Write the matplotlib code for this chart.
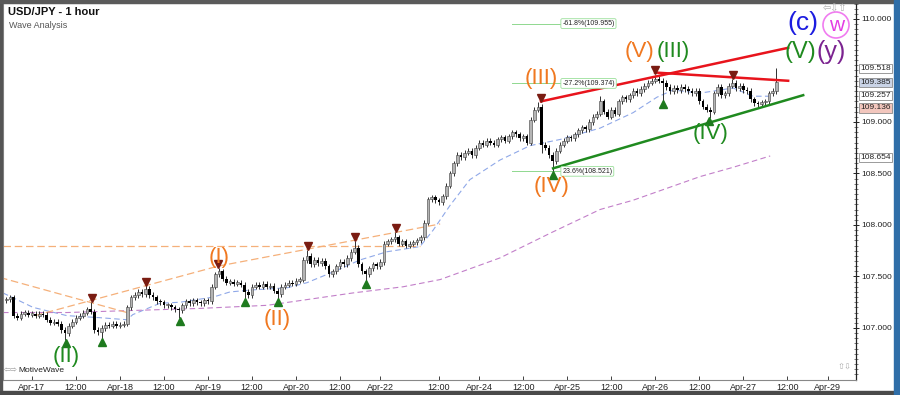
import numpy as np
import matplotlib.pyplot as plt
import matplotlib.transforms as mtransforms
from matplotlib.patches import Rectangle, Circle

plt.rcParams['font.family'] = ['Liberation Sans', 'DejaVu Sans']

# hourly closes, first bar is index -7 (Apr-17 00:00 = bar 0)
first_bar = -7
closes = [
    107.28, 107.30, 107.12, 107.10, 107.14, 107.15, 107.13,
    107.14, 107.12, 107.14, 107.13, 107.08, 107.05, 107.06, 107.04, 106.98, 106.95,
    107.02, 107.06, 107.10, 107.12, 107.15, 107.18, 107.16, 106.98, 106.96, 107.00,
    107.03, 107.02, 107.04, 107.02, 107.03, 107.04, 107.20, 107.30, 107.32, 107.35,
    107.33, 107.38, 107.32, 107.30, 107.26, 107.25, 107.22, 107.22, 107.20, 107.18,
    107.17, 107.22, 107.26, 107.24, 107.27, 107.25, 107.24, 107.27, 107.26, 107.40,
    107.52, 107.55, 107.48, 107.44, 107.45, 107.43, 107.44, 107.42, 107.35, 107.32,
    107.40, 107.42, 107.40, 107.43, 107.40, 107.41, 107.36, 107.33, 107.40, 107.42,
    107.44, 107.43, 107.46, 107.47, 107.66, 107.70, 107.62, 107.66, 107.63, 107.65,
    107.60, 107.52, 107.55, 107.60, 107.64, 107.62, 107.68, 107.74, 107.78, 107.62,
    107.55, 107.52, 107.58, 107.62, 107.60, 107.64, 107.82, 107.84, 107.86, 107.88,
    107.82, 107.84, 107.80, 107.82, 107.83, 107.85, 107.88, 108.02, 108.25, 108.27,
    108.24, 108.22, 108.28, 108.38, 108.50, 108.60, 108.68, 108.66, 108.70, 108.72,
    108.68, 108.75, 108.80, 108.78, 108.82, 108.80, 108.78, 108.83, 108.85, 108.82,
    108.86, 108.90, 108.88, 108.84, 108.86, 108.80, 109.02, 109.12, 109.15, 108.78,
    108.75, 108.68, 108.62, 108.72, 108.78, 108.82, 108.85, 108.84, 108.88, 108.92,
    108.95, 108.93, 109.00, 109.05, 109.08, 109.20, 109.10, 109.05, 109.12, 109.08,
    109.20, 109.24, 109.22, 109.26, 109.30, 109.28, 109.32, 109.35, 109.38, 109.40,
    109.42, 109.40, 109.38, 109.34, 109.30, 109.33, 109.31, 109.34, 109.32, 109.30,
    109.28, 109.30, 109.20, 109.15, 109.12, 109.10, 109.28, 109.34, 109.26, 109.28,
    109.35, 109.38, 109.33, 109.35, 109.31, 109.30, 109.22, 109.18, 109.17, 109.19,
    109.20, 109.28, 109.30, 109.385,
]
first_open = 107.27
peak_highs = {16: 107.25, 31: 107.42, 51: 107.58, 75: 107.76, 88: 107.84, 99: 107.93,
              138: 109.19, 155: 109.25, 170: 109.46, 191: 109.42, 203: 109.52}
trough_lows = {9: 106.88, 19: 106.89, 40: 107.10, 58: 107.28, 67: 107.28, 91: 107.46,
               139: 108.70, 142: 108.52, 172: 109.20, 185: 109.04}

tick_bars = [0, 12, 24, 36, 48, 60, 72, 84, 95, 111, 122, 134, 146, 158, 170, 182, 194, 206, 217]
tick_labels = ['Apr-17', '12:00', 'Apr-18', '12:00', 'Apr-19', '12:00', 'Apr-20', '12:00',
               'Apr-22', '12:00', 'Apr-24', '12:00', 'Apr-25', '12:00', 'Apr-26', '12:00',
               'Apr-27', '12:00', 'Apr-29']
price_ticks = [107.0, 107.5, 108.0, 108.5, 109.0, 110.0]

# moving averages
ma_fast_bars = [-7.9, 0.3, 9.5, 18.5, 25.9, 27.5, 34.9, 40.4, 49.4, 54.0, 60.3, 69.5, 75.0,
                83.2, 89.4, 96.8, 105.8, 109.4, 114.0, 119.4, 127.6, 135.8, 144.0, 154.9,
                163.9, 170.4, 174.8, 182.2, 191.2, 196.6, 201.3]
ma_fast_vals = [107.34, 107.20, 107.12, 107.10, 107.08, 107.13, 107.24, 107.25, 107.30, 107.35,
                107.37, 107.39, 107.44, 107.56, 107.66, 107.74, 107.79, 107.95, 108.19, 108.44,
                108.63, 108.77, 108.83, 108.94, 109.09, 109.24, 109.31, 109.28, 109.33, 109.25,
                109.25]
ma_slow_bars = [-7.9, 9.5, 27.5, 45.8, 64.1, 73.9, 87.5, 101.2, 111.3, 127.6, 141.3, 154.9,
                163.9, 182.2, 191.2, 201.3]
ma_slow_vals = [107.15, 107.15, 107.17, 107.19, 107.22, 107.27, 107.34, 107.40, 107.47, 107.68,
                107.92, 108.15, 108.24, 108.47, 108.56, 108.67]

# pivot markers
pivot_high_bars = [16.4, 31.1, 50.7, 75.3, 88.1, 99.3, 138.8, 169.9, 191.2]
pivot_high_vals = [107.29, 107.45, 107.62, 107.80, 107.88, 107.97, 109.23, 109.50, 109.46]
pivot_low_bars = [9.3, 19.1, 40.4, 58.1, 67.1, 91.1, 142.1, 172.1, 184.6]
pivot_low_vals = [106.85, 106.86, 107.07, 107.25, 107.25, 107.43, 108.49, 109.17, 109.01]

# wave labels: (text, bar, price, color, size)
wave_labels = [
    ('(II)', 9.3, 106.72, '#1f8a1f', 16),
    ('(I)', 51.0, 107.68, '#f07820', 16),
    ('(II)', 67.0, 107.08, '#f07820', 16),
    ('(III)', 138.8, 109.42, '#f07820', 16),
    ('(IV)', 141.8, 108.37, '#f07820', 16),
    ('(V)', 165.8, 109.68, '#f07820', 16),
    ('(III)', 175.0, 109.68, '#1f8a1f', 16),
    ('(IV)', 185.0, 108.89, '#1f8a1f', 16),
    ('(V)', 209.4, 109.68, '#1f8a1f', 17),
    ('(y)', 217.8, 109.68, '#7b2390', 18),
    ('(c)', 210.3, 109.96, '#1c1ce0', 19),
]

# trend lines (bar0, price0, bar1, price1)
red_lines = [(138.8, 109.20, 206.2, 109.72), (169.9, 109.48, 206.2, 109.40)]
green_line = (142.1, 108.55, 210.3, 109.26)
orange_dashed = [(-7.9, 107.80, 105.8, 107.80), (-8.7, 107.49, 25.9, 107.15),
                 (0.8, 107.12, 50.7, 107.60), (50.7, 107.60, 111.3, 108.01)]

fib_levels = [109.955, 109.374, 108.521]
fib_texts = ['-61.8%(109.955)', '-27.2%(109.374)', '23.6%(108.521)']

price_boxes = [109.518, 109.385, 109.257, 109.136, 108.654]
price_box_colors = ['white', '#c9d3e6', 'white', '#f2c6bd', 'white']

# ---------------------------------------------------------------
fig = plt.figure(figsize=(9, 3.95), dpi=100)
fig.patch.set_facecolor('white')
ax = fig.add_axes([3 / 900, 15 / 395, 853 / 900, 377 / 395])
ax.set_xlim(-7.9, 224.7)
ax.set_ylim(106.495, 110.155)

bars = np.arange(first_bar, first_bar + len(closes))
c = np.array(closes)
o = np.concatenate([[first_open], c[:-1]])
hi = np.maximum(o, c) + 0.025
lo = np.minimum(o, c) - 0.025
for b, v in peak_highs.items():
    hi[b - first_bar] = v
for b, v in trough_lows.items():
    lo[b - first_bar] = v
up = c >= o

ax.vlines(bars, lo, hi, color='#303030', lw=0.7, zorder=3)
ax.bar(bars[up], np.maximum(c - o, 0.012)[up], bottom=o[up], width=0.7,
       color='#b4b4b4', edgecolor='#404040', lw=0.4, zorder=4)
ax.bar(bars[~up], (o - c)[~up], bottom=c[~up], width=0.7, color='black', lw=0, zorder=4)

ax.plot(ma_fast_bars, ma_fast_vals, color='#8fa8e8', lw=0.8, ls=(0, (5, 3)), zorder=2)
ax.plot(ma_slow_bars, ma_slow_vals, color='#c27fc9', lw=0.8, ls=(0, (5, 3)), zorder=2)

for x0, y0, x1, y1 in orange_dashed:
    ax.plot([x0, x1], [y0, y1], color='#f5b07a', lw=0.9, ls=(0, (6, 3)), zorder=2)

for x0, y0, x1, y1 in red_lines:
    ax.plot([x0, x1], [y0, y1], color='#e8141c', lw=1.8, zorder=5)
ax.plot([green_line[0], green_line[2]], [green_line[1], green_line[3]], color='#1f8a1f', lw=1.8, zorder=5)

for lvl, txt in zip(fib_levels, fib_texts):
    ax.plot([130.9, 144.0], [lvl, lvl], color='#8fd88f', lw=0.7, zorder=2)
    ax.text(144.6, lvl, txt, fontsize=5, va='center', ha='left', color='#222222', zorder=6,
            bbox=dict(boxstyle='round,pad=0.2', fc='white', ec='#9adf9a', lw=0.6))

ax.plot(pivot_high_bars, pivot_high_vals, 'v', color='#7a1c12', ms=6, zorder=6, ls='none')
ax.plot(pivot_low_bars, pivot_low_vals, '^', color='#1e7a1e', ms=6, zorder=6, ls='none')

for txt, bx, py, col, sz in wave_labels:
    ax.text(bx, py, txt, color=col, fontsize=sz, ha='center', va='center', zorder=7)

# w in a circle
ax.text(219.3, 109.935, 'w', color='#e33ce3', fontsize=15, ha='center', va='center', zorder=7)
fig.patches.append(Circle((836, 395 - 25), 13, transform=None, fill=False,
                          ec='#f07cf0', lw=1.2, figure=fig))

# axes styling
ax.yaxis.tick_right()
ax.set_yticks(price_ticks)
ax.set_yticklabels(['%.3f' % p for p in price_ticks])
ax.set_yticks(np.arange(106.55, 110.15, 0.05), minor=True)
ax.tick_params(axis='y', which='major', labelsize=6, direction='inout', length=5, width=0.7,
               pad=1.5, colors='#222222')
ax.tick_params(axis='y', which='minor', direction='inout', length=3, width=0.5, color='#444444')
ax.set_xticks(tick_bars)
ax.set_xticklabels(tick_labels)
ax.tick_params(axis='x', labelsize=6.5, direction='in', length=3, width=0.6, pad=2, colors='#222222')
for s in ['top', 'left', 'bottom']:
    ax.spines[s].set_color('#888888')
    ax.spines[s].set_linewidth(0.8)
ax.spines['right'].set_color('#222222')
ax.spines['right'].set_linewidth(0.9)

# price boxes on the right axis
btrans = mtransforms.blended_transform_factory(ax.transAxes, ax.transData)
for p, fc in zip(price_boxes, price_box_colors):
    ax.text(1.0 + 4 / 853, p, '%.3f' % p, transform=btrans, fontsize=6, va='center', ha='left',
            color='#222222', clip_on=False, zorder=8,
            bbox=dict(boxstyle='square,pad=0.15', fc=fc, ec='#8a8a8a', lw=0.6))

# titles and watermark
fig.text(8 / 900, 1 - 12 / 395, 'USD/JPY - 1 hour', fontsize=8, fontweight='bold', va='center',
         color='#111111')
fig.text(9 / 900, 1 - 25 / 395, 'Wave Analysis', fontsize=6.5, va='center', color='#555555')
fig.text(4 / 900, 1 - 370 / 395, '\u21e6\u21e8', fontsize=6, va='center', color='#999999',
         family='DejaVu Sans')
fig.text(18 / 900, 1 - 370 / 395, 'MotiveWave', fontsize=6, va='center', color='#222222')
fig.text(823 / 900, 1 - 8 / 395, '\u21e6\u21e9\u21e7', fontsize=7, va='center', color='#aaaaaa',
         family='DejaVu Sans')
fig.text(838 / 900, 1 - 366 / 395, '\u21e7\u21e9', fontsize=6, va='center', color='#aaaaaa',
         family='DejaVu Sans')

# window frame
fig.patches.append(Rectangle((0, 0), 2 / 900, 1, transform=fig.transFigure, color='#555555', figure=fig))
fig.patches.append(Rectangle((0, 1 - 3 / 395), 1, 3 / 395, transform=fig.transFigure, color='#5a5a5a', figure=fig))
fig.patches.append(Rectangle((0, 0), 1, 4 / 395, transform=fig.transFigure, color='#4a4a4a', figure=fig))
fig.patches.append(Rectangle((894 / 900, 0), 6 / 900, 1, transform=fig.transFigure, color='#2f6ea8', figure=fig))

fig.savefig('out.png', dpi=100)
